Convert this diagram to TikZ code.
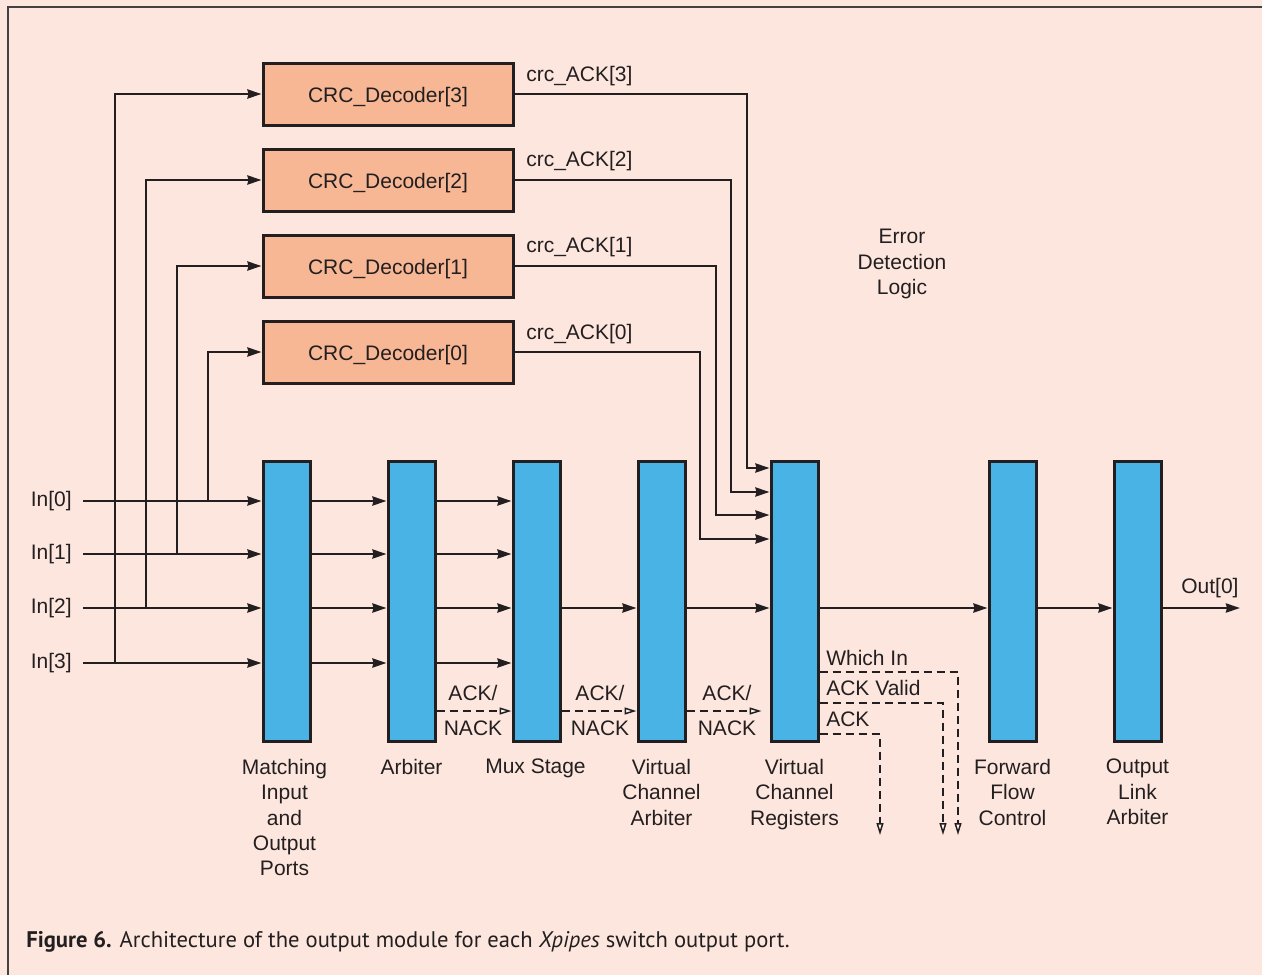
\documentclass[tikz,border=0pt]{standalone}
\usepackage{fontspec}
\setmainfont{Liberation Sans}
\newfontfamily\capfont{PT Sans}
\usetikzlibrary{arrows.meta}
\definecolor{bg}{RGB}{253,230,222}
\definecolor{peach}{RGB}{247,183,149}
\definecolor{blu}{RGB}{74,179,229}
\definecolor{ink}{RGB}{35,31,32}
\begin{document}
\begin{tikzpicture}[x=1pt,y=-1pt, line width=2.6pt, color=ink,
  font=\fontsize{21}{25.3}\selectfont,
  crc/.style={draw=ink, fill=peach, line width=3pt, minimum width=250pt, minimum height=62pt, inner sep=0, text height=18pt, text depth=2pt},
  bar/.style={draw=ink, fill=blu, line width=3pt, minimum width=47pt, minimum height=280pt, inner sep=0},
  sig/.style={-{Stealth[length=14pt,width=9pt,inset=1pt]}},
  ack/.style={dash pattern=on 8pt off 5pt, -{Triangle[open,fill=white,length=12pt,width=7pt,line width=1.5pt]}},
  lbl/.style={anchor=north, align=center, inner sep=0},
  txt/.style={inner sep=0},
]
\fill[bg] (0,0) rectangle (1262,975);
\useasboundingbox (0,0) rectangle (1262,975);
\draw[line width=2pt, ink!85] (1262,7) -- (8,7) -- (8,975);

% CRC decoders
\node[crc] (c3) at (388,94) {CRC\_Decoder[3]};
\node[crc] (c2) at (388,180) {CRC\_Decoder[2]};
\node[crc] (c1) at (388,266) {CRC\_Decoder[1]};
\node[crc] (c0) at (388,352) {CRC\_Decoder[0]};

% bars
\node[bar] (b1) at (286.5,601) {};
\node[bar] (b2) at (411.5,601) {};
\node[bar] (b3) at (536.5,601) {};
\node[bar] (b4) at (661.5,601) {};
\node[bar] (b5) at (794.5,601) {};
\node[bar] (b6) at (1012.5,601) {};
\node[bar] (b7) at (1137.5,601) {};

% inputs
\node[txt, anchor=east] (in0) at (73,501) {In[0]};
\node[txt, anchor=east] (in1) at (73,554) {In[1]};
\node[txt, anchor=east] (in2) at (73,608) {In[2]};
\node[txt, anchor=east] (in3) at (73,663) {In[3]};
\foreach \i in {0,1,2,3}{
  \draw[sig] ([xshift=10pt]in\i.east) -- (in\i -| b1.west);
  \draw[sig] (in\i -| b1.east) -- (in\i -| b2.west);
  \draw[sig] (in\i -| b2.east) -- (in\i -| b3.west);
}
\coordinate (j0) at (208,501);
\coordinate (j1) at (177,554);
\coordinate (j2) at (146,608);
\coordinate (j3) at (115,663);
\draw[sig] (j0) |- (c0.west);
\draw[sig] (j1) |- (c1.west);
\draw[sig] (j2) |- (c2.west);
\draw[sig] (j3) |- (c3.west);

% main data path
\draw[sig] (in2 -| b3.east) -- (in2 -| b4.west);
\draw[sig] (in2 -| b4.east) -- (in2 -| b5.west);
\draw[sig] (in2 -| b5.east) -- (in2 -| b6.west);
\draw[sig] (in2 -| b6.east) -- (in2 -| b7.west);
\coordinate (oe) at (1240,608);
\draw[sig] (in2 -| b7.east) -- (oe);
\node[txt, anchor=base west] (out0) at (1180,593) {Out[0]};

% crc ack lines
\coordinate (k3) at (747,468);
\coordinate (k2) at (731,492);
\coordinate (k1) at (716,515);
\coordinate (k0) at (700,539);
\draw[sig] (c3.east) -| (k3) -- (k3 -| b5.west);
\draw[sig] (c2.east) -| (k2) -- (k2 -| b5.west);
\draw[sig] (c1.east) -| (k1) -- (k1 -| b5.west);
\draw[sig] (c0.east) -| (k0) -- (k0 -| b5.west);
\node[txt, anchor=base west] (l3) at (525,81) {crc\_ACK[3]};
\node[txt, anchor=base west] (l2) at (525,166) {crc\_ACK[2]};
\node[txt, anchor=base west] (l1) at (525,252) {crc\_ACK[1]};
\node[txt, anchor=base west] (l0) at (525,339) {crc\_ACK[0]};

\node[align=center, txt] (edl) at (902,264) {Error\\Detection\\Logic};

% ACK/NACK
\coordinate (ay) at (0,711);
\draw[ack] (b2.east |- ay) -- (b3.west |- ay);
\draw[ack] (b3.east |- ay) -- (b4.west |- ay);
\draw[ack, shorten >=8pt] (b4.east |- ay) -- (b5.west |- ay);
\foreach \x/\n in {473/a, 600/b, 727/c}{
  \node[txt, anchor=base] (u\n) at (\x,700) {ACK/};
  \node[txt, anchor=base] (d\n) at (\x,735) {NACK};
}

% outputs of VC registers
\coordinate (w) at (958,672);
\coordinate (wE) at (958,835);
\coordinate (v) at (943,703);
\coordinate (vE) at (943,835);
\coordinate (a) at (880,734);
\coordinate (aE) at (880,835);
\draw[ack] (b5.east |- w) -- (w) -- (wE);
\draw[ack] (b5.east |- v) -- (v) -- (vE);
\draw[ack] (b5.east |- a) -- (a) -- (aE);
\node[txt, anchor=base west] (twi) at (825,665) {Which In};
\node[txt, anchor=base west] (tav) at (825,695) {ACK Valid};
\node[txt, anchor=base west] (tak) at (825,726) {ACK};

% bar labels
\coordinate (lt) at (0,758);
\node[lbl] (n1) at ([xshift=-2pt]b1.south |- lt) {Matching\\Input\\and\\Output\\Ports};
\node[lbl] (n2) at (b2.south |- lt) {Arbiter};
\node[lbl] (n3) at ([xshift=-1pt]b3.south |- lt) {Mux Stage};
\node[lbl] (n4) at (b4.south |- lt) {Virtual\\Channel\\Arbiter};
\node[lbl] (n5) at (b5.south |- lt) {Virtual\\Channel\\Registers};
\node[lbl] (n6) at (b6.south |- lt) {Forward\\Flow\\Control};
\node[lbl] (n7) at (b7.south |- lt) {Output\\Link\\Arbiter};

% caption
\node[txt, anchor=base west, font=\capfont\fontsize{22.6}{26}\selectfont] (cap) at (25,947)
  {\textbf{Figure 6.} Architecture of the output module for each \textit{Xpipes} switch output port.};
\end{tikzpicture}
\end{document}
